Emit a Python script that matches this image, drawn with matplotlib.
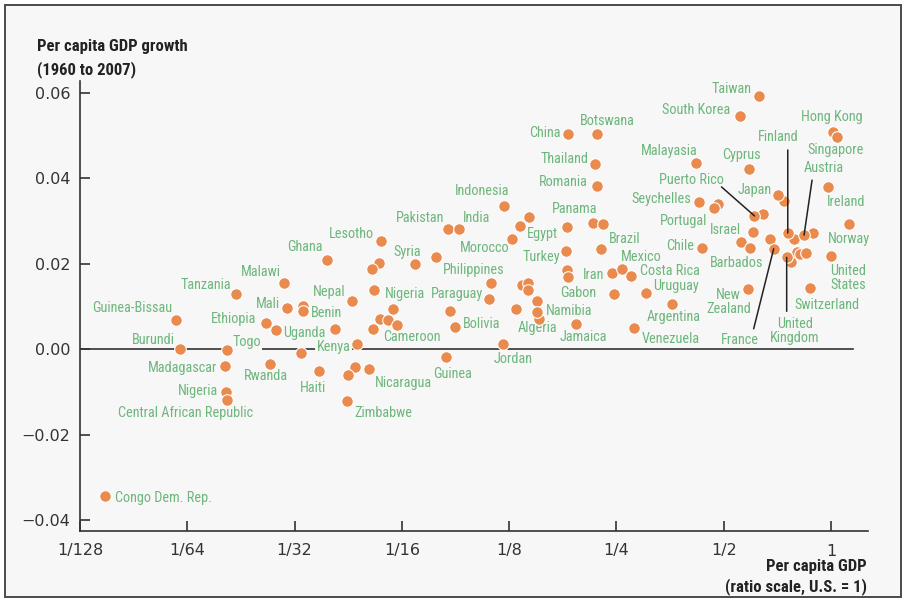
import matplotlib
matplotlib.use("Agg")
import matplotlib.pyplot as plt
from matplotlib import font_manager
from matplotlib.patches import Rectangle

# Per capita GDP relative to the U.S. (ratio) and average annual per capita growth, 1960-2007
countries = [
    "Guinea-Bissau", "Tanzania", "Malawi", "Mali", "Ethiopia", "Uganda", "Benin", "Nepal",
    "Ghana", "Lesotho", "Syria", "Pakistan", "India", "Indonesia", "Morocco", "Egypt",
    "Philippines", "Paraguay", "Bolivia", "Cameroon", "Nigeria", "Kenya", "Haiti", "Nicaragua",
    "Zimbabwe", "Guinea", "Jordan", "Algeria", "Namibia", "Gabon", "Turkey", "Iran",
    "Jamaica", "Panama", "Brazil", "Mexico", "Costa Rica", "Uruguay", "Argentina", "Venezuela",
    "Romania", "Thailand", "China", "Botswana", "Malayasia", "South Korea", "Taiwan", "Hong Kong",
    "Singapore", "Finland", "Cyprus", "Austria", "Ireland", "Japan", "Puerto Rico", "Seychelles",
    "Portugal", "Israel", "Chile", "Barbados", "New\nZealand", "France", "United\nKingdom",
    "Switzerland", "United\nStates", "Norway", "Congo Dem. Rep.", "Burundi", "Togo",
    "Madagascar", "Rwanda", "Nigeria", "Central African Republic",
]
gdp_ratio = [
    0.0145, 0.0214, 0.0291, 0.0297, 0.0259, 0.0278, 0.0330, 0.0452,
    0.0385, 0.0546, 0.0681, 0.0841, 0.0904, 0.1206, 0.1274, 0.1342,
    0.1114, 0.1098, 0.0881, 0.0607, 0.0590, 0.0469, 0.0367, 0.0507,
    0.0439, 0.0829, 0.1202, 0.1519, 0.1494, 0.1829, 0.1809, 0.2425,
    0.1922, 0.1814, 0.2263, 0.2597, 0.2747, 0.3033, 0.3573, 0.2807,
    0.2199, 0.2181, 0.1833, 0.2201, 0.4181, 0.5567, 0.6294, 1.0110,
    1.0415, 0.7563, 0.5876, 0.8402, 0.9789, 0.7113, 0.6100, 0.4263,
    0.4696, 0.6041, 0.4338, 0.5938, 0.5860, 0.6904, 0.7510,
    0.8730, 1.0000, 1.1211, 0.00919, 0.01495, 0.02025,
    0.01994, 0.02668, 0.02008, 0.02017,
]
growth = [
    0.0068, 0.0128, 0.0154, 0.0096, 0.0062, 0.0044, 0.0089, 0.0112,
    0.0208, 0.0254, 0.0199, 0.0282, 0.0282, 0.0335, 0.0258, 0.0288,
    0.0154, 0.0118, 0.0052, 0.0056, 0.0095, 0.0011, -0.0051, -0.0047,
    -0.0121, -0.0018, 0.0013, 0.0070, 0.0088, 0.0169, 0.0230, 0.0179,
    0.0059, 0.0286, 0.0234, 0.0187, 0.0171, 0.0131, 0.0105, 0.0049,
    0.0382, 0.0433, 0.0505, 0.0505, 0.0437, 0.0546, 0.0594, 0.0509,
    0.0497, 0.0272, 0.0421, 0.0267, 0.0380, 0.0361, 0.0312, 0.0344,
    0.0330, 0.0274, 0.0237, 0.0238, 0.0141, 0.0235, 0.0215,
    0.0142, 0.0217, 0.0292, -0.0344, 0.0000, -0.0002,
    -0.0040, -0.0034, -0.0100, -0.0119,
]

# Countries plotted without a name
other_gdp_ratio = [
    0.0330, 0.0326, 0.0405, 0.0540, 0.0516, 0.0778, 0.0523, 0.0519, 0.0543, 0.0571,
    0.0461, 0.0442, 0.0853, 0.1419, 0.2145, 0.2288, 0.1356, 0.1409, 0.1409, 0.1494,
    0.1305, 0.1814, 0.2457, 0.4810, 0.6444, 0.7395, 0.7873, 0.8920, 0.6743, 0.7722,
    0.8026, 0.8185, 0.8508, 0.5602,
]
other_growth = [
    0.0100, -0.0010, 0.0048, 0.0201, 0.0188, 0.0215, 0.0138, 0.0048, 0.0070, 0.0069,
    -0.0041, -0.0061, 0.0090, 0.0310, 0.0296, 0.0292, 0.0150, 0.0154, 0.0138, 0.0112,
    0.0093, 0.0185, 0.0130, 0.0339, 0.0317, 0.0347, 0.0257, 0.0272, 0.0258, 0.0204,
    0.0227, 0.0222, 0.0225, 0.0251,
]

x_ticks = [1 / 128, 1 / 64, 1 / 32, 1 / 16, 1 / 8, 1 / 4, 1 / 2, 1]
x_tick_labels = ["1/128", "1/64", "1/32", "1/16", "1/8", "1/4", "1/2", "1"]
y_ticks = [-0.04, -0.02, 0.0, 0.02, 0.04, 0.06]
y_tick_labels = ["\u22120.04", "\u22120.02", "0.00", "0.02", "0.04", "0.06"]

# Label placement: pixel offset from the marker and horizontal alignment
label_layout = [
    (-3, 12, "right"), (-5, 9, "right"), (-3, 11, "right"), (-7, 4, "right"),
    (-9, 4, "right"), (7, -3, "left"), (8, -2, "left"), (-6, 9, "right"),
    (-4, 13, "right"), (-7, 7, "right"), (-8, 12, "center"), (-4, 11, "right"),
    (4, 11, "left"), (-21, 15, "center"), (-3, -9, "right"), (7, -8, "left"),
    (-18, 13, "center"), (-6, 5, "right"), (8, 3, "left"), (15, -12, "center"),
    (12, 15, "center"), (-7, -3, "right"), (-6, -17, "center"), (5, -14, "left"),
    (7, -12, "left"), (7, -17, "center"), (10, -15, "center"), (-2, -9, "center"),
    (9, 1, "left"), (10, -16, "center"), (-6, -6, "right"), (-7, -2, "right"),
    (8, -13, "center"), (8, 18, "center"), (8, 10, "left"), (19, 12, "center"),
    (9, 5, "left"), (7, 7, "left"), (2, -13, "center"), (7, -11, "left"),
    (-9, 4, "right"), (-7, 5, "right"), (-8, 1, "right"), (11, 13, "center"),
    (-27, 12, "center"), (-10, 6, "right"), (-8, 7, "right"), (-1, 15, "center"),
    (-2, -13, "center"), (-10, 96, "center"), (-7, 14, "center"), (20, 67, "center"),
    (18, -15, "center"), (-7, 5, "right"), (-63, 36, "center"), (-8, 3, "right"),
    (-7, -13, "right"), (-12, 2, "right"), (-8, 2, "right"), (-14, -15, "center"),
    (-20, -13, "center"), (-34, -91, "center"), (8, -74, "center"),
    (17, -17, "center"), (17, -22, "center"), (0, -15, "center"), (10, -2, "left"),
    (-6, 9, "right"), (5, 8, "left"), (-8, -2, "right"), (-4, -12, "center"),
    (-8, 1, "right"), (-41, -13, "center"),
]
# Leader lines: start offset (pixels) from the marker they point at
leader_starts = {
    "Finland": (0, 83),
    "Austria": (8, 55),
    "Puerto Rico": (-33, 29),
    "France": (-20, -80),
    "United\nKingdom": (0, -54),
}

BG = "#f7f7f7"
DOT = "#e98b4e"
LABEL = "#6db67c"
INK = "#333333"

available = {f.name for f in font_manager.fontManager.ttflist}
narrow = next((n for n in ["Liberation Sans Narrow", "Roboto Condensed"] if n in available), None)
if narrow:
    label_font = dict(family=narrow)
else:
    label_font = dict(family="DejaVu Sans", stretch="condensed")

fig = plt.figure(figsize=(9.05, 6.01), dpi=100, facecolor="white")
fig.patches.append(Rectangle((4.5 / 905, 4.5 / 601), 896 / 905, 592 / 601,
                             transform=fig.transFigure, facecolor=BG,
                             edgecolor="#4a4a4a", linewidth=1.4, zorder=-10))

ax = fig.add_axes([80 / 905, 70 / 601, 788 / 905, 450 / 601])
ax.set_facecolor(BG)
ax.patch.set_alpha(0)

ax.set_xscale("log", base=2)
ax.set_xlim(1 / 128, 1.27)
ax.set_ylim(-0.0426, 0.0628)

ax.axhline(0, xmin=0, xmax=0.981, color=INK, lw=1.2, zorder=1)

ax.scatter(other_gdp_ratio, other_growth, s=70, color=DOT, edgecolor="white",
           linewidth=0.8, zorder=3)
ax.scatter(gdp_ratio, growth, s=70, color=DOT, edgecolor="white",
           linewidth=0.8, zorder=3)

for name, gx, gy, (dx, dy, ha) in zip(countries, gdp_ratio, growth, label_layout):
    ax.annotate(name, (gx, gy), xytext=(dx, dy), textcoords="offset pixels",
                ha=ha, va="center", multialignment="center", color=LABEL,
                fontsize=10.3, linespacing=1.0, zorder=2,
                bbox=dict(boxstyle="square,pad=0.08", facecolor=BG, edgecolor="none"),
                **label_font)
    if name in leader_starts:
        sx, sy = leader_starts[name]
        ax.annotate("", (gx, gy), xytext=(sx, sy), textcoords="offset pixels",
                    arrowprops=dict(arrowstyle="-", color="#222222", lw=1.1,
                                    shrinkA=0, shrinkB=0),
                    zorder=4)

for side in ["top", "right"]:
    ax.spines[side].set_visible(False)
for side in ["left", "bottom"]:
    ax.spines[side].set_color(INK)
    ax.spines[side].set_linewidth(1.2)

ax.xaxis.set_minor_locator(plt.NullLocator())
ax.set_xticks(x_ticks)
ax.set_xticklabels(x_tick_labels)
ax.set_yticks(y_ticks)
ax.set_yticklabels(y_tick_labels)
ax.tick_params(axis="both", direction="in", length=7, width=1.2, color=INK,
               labelsize=11.5, labelcolor=INK)
ax.tick_params(axis="x", pad=9)
ax.tick_params(axis="y", pad=7)

title_font = dict(fontsize=12, fontweight="bold", color="#222222", **label_font)
fig.text(37 / 905, 1 - 47 / 601, "Per capita GDP growth", ha="left", va="center", **title_font)
fig.text(37 / 905, 1 - 70 / 601, "(1960 to 2007)", ha="left", va="center", **title_font)
fig.text(867 / 905, 1 - 566 / 601, "Per capita GDP", ha="right", va="center", **title_font)
fig.text(867 / 905, 1 - 587 / 601, "(ratio scale, U.S. = 1)", ha="right", va="center", **title_font)

fig.savefig("out.png", dpi=100, facecolor="white")
